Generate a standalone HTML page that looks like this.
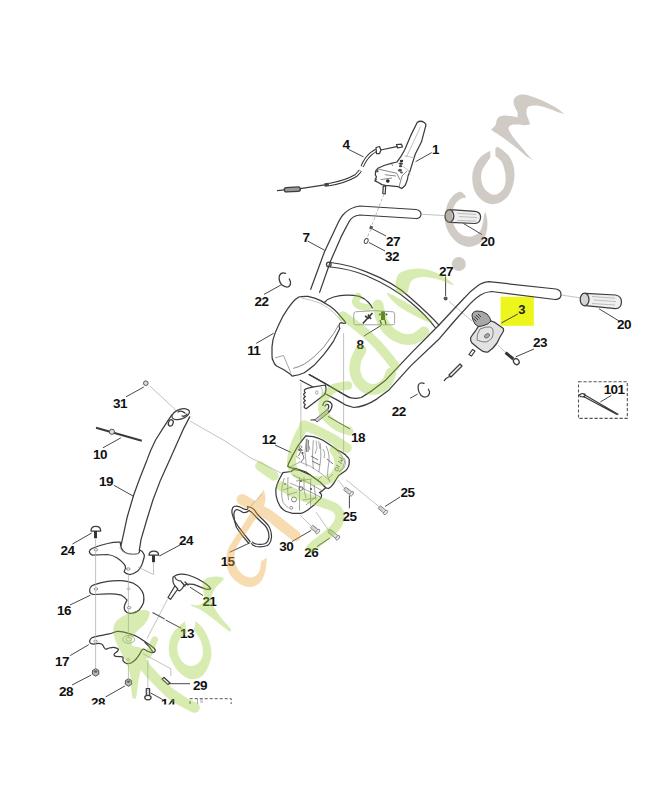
<!DOCTYPE html>
<html><head><meta charset="utf-8">
<style>
html,body{margin:0;padding:0;background:#fff;width:652px;height:800px;overflow:hidden}
svg{display:block}
.l{fill:none;stroke:#3c3c3c;stroke-width:1.25;stroke-linejoin:round;stroke-linecap:round}
.lf{fill:#fff;stroke:#3c3c3c;stroke-width:1.25;stroke-linejoin:round}
.t{fill:none;stroke:#333;stroke-width:0.9}
.g{fill:none;stroke:#a8a8a8;stroke-width:0.7}
.gd{fill:none;stroke:#9a9a9a;stroke-width:0.7;stroke-dasharray:3 2}
.n{font-family:"Liberation Sans",sans-serif;font-weight:bold;font-size:13.5px;fill:#111;text-anchor:middle;letter-spacing:-0.6px}
.wg{fill:none;stroke:#d3eab0;stroke-linecap:round;stroke-linejoin:round}
.wo{fill:none;stroke:#fbd9a6;stroke-linecap:round;stroke-linejoin:round}
.wb{fill:none;stroke:#d8d1c6;stroke-linecap:round;stroke-linejoin:round}
</style></head>
<body>
<svg width="652" height="800" viewBox="0 0 652 800">
<!-- WATERMARK -->
<!-- DIAGRAM -->
<g id="dg">
<!-- upper handlebar 7 -->
<path class="l" d="M310.7,289.3 L324.5,251.7 L336.7,225.7 Q341,216 344.4,213.4 Q350,207.5 359.8,206 L416,209.5 Q421,210.5 421,214 Q421,218.5 416,218.5 L359.8,215 Q352,216 349,221.8 L341.3,236.4 L330.6,261 L319.6,292.4"/>
<path class="l" d="M330.6,262.5 Q350,265 365.9,271.7 Q395,283 410.6,298 Q430,315 439,325.2"/>
<path class="l" d="M330.6,267 Q350,269 365.9,275.5 Q393,287 410.6,302.2 Q426,315 435.2,327.5"/>
<circle class="l" cx="328.8" cy="264.5" r="2.3"/>

<!-- part 11 cover -->
<path class="lf" d="M298.7,297 Q303,296 307.9,296.4 Q315,298 320.7,300.6 L330,306.2 Q334,309 337.3,312.6 L343.7,320 Q346,322.5 345.6,323.2 Q343,323.5 341,322.7 Q339.5,323 339.1,325 Q339,327.5 339.8,328.5 L333.7,340.8 Q329,348 323.9,354.3 Q319,360 314.1,365.3 Q309,369.5 304.3,372.7 Q299,375 293.2,375.9 Q292.5,376.2 292.2,376.1 L290.4,374.3 L283.9,369.7 L276.6,366 Q274.5,364.5 273.8,362.3 Q271.5,358 272,355 Q271.5,347 272.9,340.2 Q275,332 278.4,325.5 Q282.5,316 287.6,308.9 Q291.5,303 295,299.7 Z"/>
<path class="g" d="M301.4,297.9 Q312,300 320.7,303.4 Q328,307 333.6,312.6 Q338,317 341.9,321.8"/>
<path fill="none" stroke="#8a8a8a" stroke-width="1" d="M338.6,324.8 Q336,330 333.7,333.4 L323.9,346.9 Q319,352 314.1,356.7 Q309,361 304.3,364.1 Q299,367 293.2,368.4"/>
<path fill="none" stroke="#999" stroke-width="0.9" d="M274.8,358 L283.4,355.5 L290.8,372.7"/>
<!-- back housing arc -->
<path class="l" d="M324.4,302.5 Q328,298.5 333.6,297 Q340,295.2 346.5,295.1 Q354,295 359.4,296.4 Q365,298.5 368.6,302.5 Q371,305 372.3,308"/>
<!-- part 8 decal -->
<path fill="none" stroke="#9a9a9a" stroke-width="0.9" d="M355.5,311.8 Q374,309.5 393,311.8 Q394.6,312.3 394.6,314 L394.6,323.5 Q394.6,324.8 393,324.8 L355.5,324.8 Q353.8,324.8 353.8,323.5 L353.8,314 Q353.8,312.3 355.5,311.8 Z"/>
<path stroke="#3a3a3a" stroke-width="1.6" fill="none" d="M362.8,323.5 L372.5,313 M365,316 L369,318.5 M368,314.5 L371,319"/>
<g fill="#3d5a20"><circle cx="383" cy="313.5" r="2.2"/><rect x="381" y="315" width="4" height="5"/><path d="M380,320 L381.5,324.5 M385,320 L386,324.5" stroke="#3d5a20" stroke-width="1.3"/><circle cx="379.8" cy="314.5" r="1"/><circle cx="386.5" cy="314.5" r="1"/></g>

<!-- lever 1 -->
<path class="lf" d="M417.2,122.5 Q420.5,120 424.2,122.5 Q426.5,124 425.8,125.7 L421.5,141.8 L415.2,154.2 L409.5,172.6 Q407.8,175 407.4,179.6 L405.3,185.3 L401.8,188.5 L399.6,187.4 L398.2,186.7 L385.5,185.3 L382,184.6 L377,181.8 L374.9,181 L376.4,176.8 L375.3,174.7 L375.6,171.2 L377.8,168.3 L384.1,165.5 L391.2,163.4 L396.8,162 L401,156.4 L404.6,150 L410.8,135.4 Z"/>
<path class="g" d="M420.5,126.8 L406.5,156.9 M404.4,155.8 L415.1,158 M396.8,162.2 L408,170 L410.3,175.1"/>
<path fill="none" stroke="#555" stroke-width="0.7" d="M377.8,169 L396.8,173.3 L400,180 M384.8,174.7 L396,176 M380.6,179.6 L392,178 M399,187 L402,176 L407,171 M391.2,163.4 L393,166"/>
<ellipse cx="401.5" cy="161" rx="1.8" ry="1.2" fill="#333"/><ellipse cx="401" cy="163.6" rx="1.9" ry="1.2" fill="#333"/><ellipse cx="400.5" cy="166.2" rx="1.6" ry="1.1" fill="#444"/>
<ellipse cx="400" cy="170.3" rx="2" ry="1.5" fill="#555"/><ellipse cx="401.5" cy="172.5" rx="1.5" ry="1.1" fill="#666"/>
<circle cx="387.8" cy="181" r="1.8" fill="#222"/><circle cx="377.3" cy="171.3" r="1.2" fill="#555"/><circle cx="375.8" cy="179.7" r="1" fill="#444"/>
<path class="lf" d="M383.3,186 L382.8,193.5 L385.2,193.8 L385.7,186 Z"/>
<path class="gd" d="M384,194 L371.5,226"/>
<path class="gd" d="M371,229 L366.5,239"/>
<!-- cable 4 -->
<path class="l" d="M277.5,190.7 L284.3,189.8"/>
<rect x="284.3" y="187.3" width="16" height="4.4" rx="2" class="lf" style="fill:#9a9a9a" transform="rotate(-3 292 189.5)"/>
<path class="l" d="M300.3,188.7 L324.8,184.8" stroke-width="1.3"/>
<rect x="324.5" y="183" width="4.5" height="3.6" fill="#444" transform="rotate(-8 326.5 185)"/>
<path fill="none" stroke="#333" stroke-width="3.4" stroke-linecap="butt" d="M329,184.6 Q345,182 356,175.5 Q359,172.5 360.4,170.5 M362.2,166.5 Q365,159 371.2,153.6 Q374,151.5 376.2,150.3"/>
<path fill="none" stroke="#fff" stroke-width="1.4" d="M329,184.6 Q345,182 356,175.5 Q359,172.5 360.4,170.5 M362.2,166.5 Q365,159 371.2,153.6 Q374,151.5 376.2,150.3"/>
<path class="lf" d="M376,147.5 L379.5,146.5 L381,150 L379.5,153.5 L376.5,153.5 Z"/>
<path class="l" d="M380.5,150 L396.8,146.7" stroke-width="0.9"/>
<path class="l" d="M396.5,144.5 L401.5,144.2 L402.5,147 L397.5,147.8 Z" stroke-width="0.8"/>
<!-- grip 20 upper -->
<path class="lf" style="fill:#efefef" d="M450.1,209.7 L475,211.3 Q480.8,212 480.6,217.2 Q480.2,223.3 475,223.5 L450.1,222.3 Z"/>
<ellipse class="lf" style="fill:#d4d4d4" cx="449.4" cy="216" rx="4.4" ry="6.3"/>
<path class="g" d="M457,213.2 L476,214.5 M457,220.5 L476,221 M459,216.5 L477,217.6"/>
<path class="g" d="M421,214.2 L445,215.6"/>
<!-- grip 20 lower -->
<path class="lf" style="fill:#efefef" d="M585.3,293.3 L615.5,295 Q621.5,296 621.5,302 Q621.2,308.5 615.5,308.7 L585.3,305.7 Z"/>
<ellipse class="lf" style="fill:#d4d4d4" cx="584.6" cy="299.5" rx="4.4" ry="6.3"/>
<path class="g" d="M592,296.5 L615,298.2 M592,303.5 L615,305 M594,300 L616,301.6"/>
<path class="g" d="M561,295 L580,297.8"/>

<!-- yellow box 3 -->
<rect x="500.6" y="296.8" width="33.2" height="29" fill="#ecf61c"/>
<!-- part 3 -->
<path class="lf" style="fill:#e2e2e2" d="M478.4,326.4 L476,330 L473,334 L470.5,338 Q470.5,341 472,343 L478,348 L483,351.4 Q486,352.5 488,352 L493,348 L497,343 L500,337 L503,332 Q504,330 503.4,328.4 L499.9,326 L494.9,322.4 L491,321 Z"/>
<path fill="#e4e4e4" stroke="#555" stroke-width="0.7" d="M480,329 Q486,326.5 490,327 Q493,328 493,330 Q493.5,335 492,338 Q489,341 486,342 Q481,342 477,340 Q476.5,334 480,329 Z"/>
<ellipse cx="487" cy="335.8" rx="2.8" ry="1.9" fill="#aaa" stroke="#555" stroke-width="0.7" transform="rotate(-30 487 335.8)"/>
<path fill="#a8a8a8" stroke="#333" stroke-width="1" d="M472,316 Q472,311.5 477,311 Q482,310.5 487,314 Q490,317 491,321 Q488,324.5 485,325 Q481.5,326.5 478.4,326.4 Q476,325.5 475,324 Q472.5,320 472,316 Z"/>
<path d="M473.5,318.5 L476.5,321.5 M474.5,316.5 L478,320 M476,315 L479.5,318.5 M478,314 L481,317" stroke="#444" stroke-width="1"/>
<path class="lf" d="M469,354.5 L472.5,349.5 L475,351 L471.5,356 Z" stroke-width="0.8"/>
<path class="g" d="M449,301.5 L472,321 M497.9,344.9 L505.9,352.9"/>
<!-- screw 23 -->
<path d="M505.6,352.6 L513.3,359" stroke="#333" stroke-width="3"/>
<ellipse class="lf" cx="516.3" cy="361.6" rx="2.6" ry="3.2" transform="rotate(-40 516.3 361.6)"/>
<!-- part 27 right -->
<circle cx="445.6" cy="298.4" r="2" fill="#555"/>
<!-- 27 upper & 32 -->
<rect x="369.6" y="226" width="3.2" height="3" fill="#555" transform="rotate(20 371 227.5)"/>
<ellipse cx="366.2" cy="241" rx="1.8" ry="2.6" fill="none" stroke="#444" stroke-width="0.9" transform="rotate(25 366.2 241)"/>
<!-- pin near 22 right -->
<path class="lf" d="M449,375 L460,364 L462,366 L451,377 Z" stroke-width="0.8"/>
<path class="l" d="M449.5,376.5 L446,378.5 L444.3,380.6" stroke-width="1.2"/>
<!-- clip 22 right -->
<path class="l" d="M424,383.4 Q420,381.5 418.2,385.6 Q417.5,391 421.2,395.5 Q424.5,398.3 428,396 Q430,393.5 429.5,391.5 L428.3,389.2" stroke-width="1.7"/>
<!-- clip 22 left -->
<path class="l" d="M285.6,273.4 Q281,271.8 279.3,276 Q278.5,281 281.6,284.8 Q285,287.6 288.2,287 Q291,285.5 290.4,281.5 L289.3,278.9" stroke-width="1.7"/>
<!-- box 101 -->
<rect x="578.5" y="381.8" width="48.8" height="36.6" fill="none" stroke="#555" stroke-width="1.1" stroke-dasharray="3.2 1.8"/>
<path class="l" d="M584,394.5 L618,414.2 M583.5,396.5 L617,414.5" stroke-width="0.9"/>
<path class="l" d="M579,395 L582,393.5 L585,394 L584.5,397 L581,396.7 Z" stroke-width="0.9"/>

<!-- part 19 tube -->
<path class="l" d="M171.8,414.9 Q163,428 155.6,440 Q150.5,450 147,459.9 L139.8,478.3 L133.6,495.2 L127.3,516.7 L122,541.2 L120.9,545.8"/>
<path class="l" d="M189.7,416.9 Q183,429 178.5,440 L169.6,459.9 L160.6,479.9 L153,499.8 L146.8,519.8 L141,539.7 L139.3,550.4"/>
<ellipse class="lf" cx="180.7" cy="414.2" rx="9.2" ry="4.8" transform="rotate(-20 180.7 414.2)"/>
<path class="l" d="M178,412 Q181,410 185,413 M182,416 Q186,417 187,414" stroke-width="0.7"/>
<ellipse class="l" cx="170.8" cy="422.9" rx="2.3" ry="3.3" transform="rotate(20 170.8 422.9)" stroke-width="0.9"/>
<!-- flange of 19 -->
<path class="lf" d="M92.4,548.3 Q100,545 107.6,543.5 Q114,542 120.2,542.2 L120.7,545.8 Q122,552 127.6,553.5 Q134,555 138.3,553.5 Q140,552 139.8,550 Q142.5,551 142.8,552.4 Q145,555 144.2,557.3 L142.1,564.2 Q139.5,570 136.6,571.8 Q133,574.5 129.7,574.5 Q126,574 124.2,571.8 Q124.5,569.5 125.6,568.3 Q125.5,565.5 124.2,564.2 Q121,560.5 117.3,558 Q112.5,555 107.6,554.5 L92.4,555.2 Q89.5,554 89.3,551.5 Q89.8,549.2 92.4,548.3 Z"/>
<path class="g" d="M119.2,547.4 Q122,552.5 127.6,554 Q134,555.5 139,553"/>
<ellipse cx="95.9" cy="549.8" rx="1.8" ry="1.2" fill="none" stroke="#666" stroke-width="0.7"/>
<ellipse cx="128.3" cy="569" rx="1.8" ry="1.2" fill="none" stroke="#666" stroke-width="0.7"/>
<!-- screws 24 -->
<path class="lf" d="M91,531 Q91,526.3 95.8,526.3 Q100.7,526.3 100.7,531 Z" stroke-width="0.9"/>
<path d="M95.5,531 L95.5,538.2" stroke="#333" stroke-width="3"/>
<path class="lf" d="M149,555.2 Q149,551 153.8,551 Q158.7,551 158.7,555.2 Z" stroke-width="0.9"/>
<path d="M153.5,555.2 L153.5,562.2" stroke="#333" stroke-width="3"/>
<!-- part 16 -->
<path class="lf" d="M93.8,584.9 Q100,582.5 107.6,581.4 Q114,580.5 121.4,580.7 Q127,581.3 132.5,582.8 Q136.5,585 139.4,587.6 Q142.2,590.5 143.5,594.5 Q144.3,598.5 143.5,602.8 Q142,606.5 139.4,609.7 Q136.5,612.5 132.5,613.2 Q129,613.7 127,612.5 Q124.2,610.5 124.2,608.3 Q124.2,606 124.9,604.2 L127,600.1 Q124.5,597 121.4,595.2 Q114.5,593.5 107.6,593.9 L93.8,594.5 Q90.3,594 89.8,591.8 Q89.3,589 90.4,587.5 Q91.8,585.4 93.8,584.9 Z"/>
<ellipse cx="95.9" cy="589" rx="1.8" ry="1.2" fill="none" stroke="#666" stroke-width="0.7"/>
<ellipse cx="128.6" cy="588.8" rx="1.6" ry="1" fill="none" stroke="#999" stroke-width="0.6"/>
<ellipse cx="129" cy="607.7" rx="1.8" ry="1.2" fill="none" stroke="#666" stroke-width="0.7"/>
<!-- part 17 -->
<path class="lf" d="M89.6,641.1 C89.7,640.3 90.7,638.4 91.9,637.7 C93.1,637.0 96.7,636.4 98.8,635.9 C100.9,635.4 106.0,634.7 108.0,634.2 C110.0,633.7 112.6,632.9 113.8,632.5 C115.0,632.1 116.0,631.4 117.2,631.3 C118.4,631.2 121.2,631.5 123.0,631.9 C124.8,632.3 129.2,633.6 131.0,634.2 C132.8,634.8 135.3,635.7 136.8,636.5 C138.3,637.3 140.8,638.9 142.5,640.0 C144.2,641.1 147.9,643.5 149.4,644.6 C150.9,645.7 153.2,647.2 154.0,648.0 C154.8,648.8 155.3,650.3 155.2,650.9 C155.1,651.5 153.8,652.5 152.9,652.6 C152.0,652.7 149.5,652.0 148.3,651.5 C147.1,651.0 144.6,649.3 143.7,649.2 C142.8,649.1 142.0,650.1 141.4,650.9 C140.8,651.7 139.9,653.8 139.1,654.9 C138.3,656.0 136.7,658.4 135.6,659.5 C134.5,660.6 132.2,662.5 131.0,663.0 C129.8,663.5 127.5,663.8 126.4,663.5 C125.3,663.2 123.5,661.5 123.0,660.7 C122.5,659.9 123.5,657.7 123.0,657.2 C122.5,656.7 120.6,656.7 119.5,656.6 C118.4,656.5 115.6,656.5 114.9,656.1 C114.2,655.7 114.0,654.4 114.3,653.8 C114.6,653.2 116.7,652.1 117.2,651.5 C117.7,650.9 118.9,649.7 118.4,649.2 C117.9,648.7 115.0,647.6 113.8,647.4 C112.6,647.2 110.3,647.8 109.2,648.0 C108.1,648.2 106.4,649.3 105.7,649.2 C105.0,649.1 104.5,648.0 104.0,647.4 C103.5,646.8 103.0,645.1 102.3,644.6 C101.6,644.1 99.9,643.5 98.8,643.4 C97.7,643.3 95.3,644.0 94.2,644.0 C93.1,644.0 91.4,643.8 90.8,643.4 C90.2,643.0 89.5,641.9 89.6,641.1 Z"/>
<path class="l" d="M145,642.5 Q150,646.5 152.5,651.5" stroke-width="0.7"/>
<ellipse cx="95.6" cy="641.2" rx="1.8" ry="1.1" fill="none" stroke="#777" stroke-width="0.7"/>
<ellipse cx="128.7" cy="639.4" rx="6" ry="3.9" fill="none" stroke="#888" stroke-width="0.7"/>
<ellipse cx="128.7" cy="639.4" rx="2.8" ry="1.8" fill="none" stroke="#888" stroke-width="0.6"/>
<ellipse cx="128.1" cy="659.5" rx="1.6" ry="1" fill="none" stroke="#888" stroke-width="0.6"/>
<!-- nuts 28 -->
<path d="M92.5,670.5 L95.6,668.6 L98.8,670.5 L98.8,674.2 L95.6,676.2 L92.5,674.2 Z" fill="#b8b8b8" stroke="#444" stroke-width="0.9"/>
<ellipse cx="95.6" cy="671.5" rx="1.8" ry="1.2" fill="#666"/>
<path d="M125.4,680.6 L128.5,678.7 L131.6,680.6 L131.6,684.3 L128.5,686.3 L125.4,684.3 Z" fill="#b8b8b8" stroke="#444" stroke-width="0.9"/>
<ellipse cx="128.5" cy="681.6" rx="1.8" ry="1.2" fill="#666"/>
<!-- bolt 14 -->
<path class="lf" d="M146.3,688.5 L149.6,688.5 L149.6,696 L146.3,696 Z" stroke-width="0.8"/>
<path d="M146.3,690.5 L149.6,690 M146.3,692.5 L149.6,692 M146.3,694.5 L149.6,694" stroke="#777" stroke-width="0.5"/>
<ellipse class="lf" cx="147.9" cy="697.6" rx="3.2" ry="2.2" stroke-width="0.8"/>
<!-- vertical dotted lines left -->
<path class="g" d="M95.6,538.5 L95.6,547.5 M95.6,551.5 L95.6,586.8 M95.6,591 L95.6,638.8 M95.6,643 L95.6,668.5 M128.4,574.8 L128.4,606 M128.4,609.5 L128.4,637.8 M128.4,661.5 L128.4,678.8"/>
<path class="g" d="M153.5,562.5 L153.5,574.5 L138,567"/>
<!-- part 31 -->
<circle cx="145.8" cy="383.2" r="2.3" fill="#ddd" stroke="#444" stroke-width="0.9"/>
<path class="g" d="M149.8,386 L175.7,409.9 M189.7,420.9 L225,441 L250,457.5 L283,474"/>
<!-- part 10 -->
<path d="M96,427.8 L141.8,440.8" stroke="#3a3a3a" stroke-width="2"/>
<circle cx="111.9" cy="431.8" r="2.6" fill="#ddd" stroke="#444" stroke-width="0.9"/>

<!-- bracket plate -->
<path class="l" d="M300.2,380.2 L313.5,387.2"/>
<path class="lf" d="M312.5,387.2 L325.4,385 Q327,390 324.4,394.7 L306.1,408.7 Q302.6,407 305.3,404.6 Q302,402.6 305.3,400.6 Q302,398.6 305.3,396.6 Q302,394.6 305.3,392.6 Q302.5,389.8 307.2,388.3 Z"/>
<ellipse cx="316.8" cy="392.5" rx="1.3" ry="1.8" fill="none" stroke="#777" stroke-width="0.6"/>
<path class="g" d="M320.5,386 Q323.5,390 322,395"/>
<!-- lower handlebar extra (front segment) -->
<path class="l" d="M309.3,374.6 L350,397.8"/>
<!-- part 18 -->
<path fill="#ccc" stroke="#444" stroke-width="0.8" d="M327.2,409.5 L329.5,412 L317,422 L314.8,419.8 Z"/>
<path class="l" d="M311,420 L314.8,419.8" stroke-width="1"/>
<path class="l" d="M322.8,405.4 Q323.5,401.5 326.5,401 Q331,401 332.1,405 Q332,409 328.7,412.2 M325,406 Q326,404 328,404.5 Q329.6,406 328,409" stroke-width="1"/>
<!-- dashed verticals -->
<path class="g" d="M300.9,382.6 L300.9,465 M343.6,333 L343.6,452"/>
<!-- part 12 upper housing -->
<path class="lf" d="M305.7,435.8 L313.3,436.7 Q318,438 323,440.2 L331.3,445.7 L336.8,449.8 Q340,451 342.3,452.6 Q346,454.5 346.4,456.1 Q349.5,458.5 349.2,460.9 Q349.5,464 348.5,466.4 Q347.5,469 345.8,470.6 L340.9,474 L338.2,476.1 L336.1,479.5 L334,483 L331.3,486.4 L328.5,488.5 L325.7,487.8 L320,483 L313,477 L306,472 L296,468.5 L291.2,467.8 L287.8,466.4 L288.5,463.7 L292.6,455.4 L298.1,445.7 Z"/>
<path fill="none" stroke="#666" stroke-width="0.6" d="M306.4,438.8 L305,452 L306.4,466.4 M313.3,440.2 L312.5,455 L313.3,469 M320.2,443 Q322,456 318.8,472 M326,446 Q331,455 328,468 Q326,476 330,482 M337,451 Q343,455 344.5,462 Q344,468 339,472 M300,448 L303,451 M296,456 L300,459 M309,446 L310,450 M333,474 L329,478 M322,476 L318,480"/>
<circle cx="336.8" cy="469.2" r="1.7" fill="none" stroke="#555" stroke-width="0.7"/>
<path fill="none" stroke="#555" stroke-width="0.8" d="M307,439 L306.5,452 M308.5,440 L308,452 M302,452 L304,458 L301,462 M311,456 L318,460 M312,461 L320,465 M327,459 L333,464 M339,457 L343,459 M338,461 L342,464 M336,465 L340,467 M298.5,456 L302,449"/>
<path fill="none" stroke="#777" stroke-width="0.6" d="M316,440.5 L317,448 L315,454 M318.5,441 L320,449 M323,449 Q326,453 324,458 M344.5,458 Q347,463 344,468 L339,472 M291,466.5 L300,462 L310,466 L322,474 L330,481"/>
<circle cx="299.5" cy="449.8" r="1.4" fill="#666"/><circle cx="302.5" cy="453" r="1" fill="#555"/><circle cx="341.5" cy="460.5" r="1" fill="#555"/>

<circle cx="300.5" cy="447" r="1.3" fill="none" stroke="#555" stroke-width="0.6"/>
<!-- part 12 lower housing -->
<path class="lf" d="M282.9,472.6 L291.2,471.5 L293.5,469.5 L300,470.5 L310,475 L320,482 L325.7,487.8 L322,491 L319.5,492.6 Q321.5,494 321.6,495.4 Q321.5,497.5 320.2,498.9 L314.7,504.4 L307.8,509.9 Q304,512.5 300.9,513.3 L292.6,513.3 Q288.5,512.5 285.7,511.3 Q282,509 280.2,506.4 Q277.5,502 276.7,498.2 Q275.5,493 276,488.5 Q277,484 278.8,480.2 Z"/>
<path fill="none" stroke="#666" stroke-width="0.6" d="M284.3,478 Q281.6,486 281.6,491.3 Q281.5,498 283,502.3 Q285.5,506 288.5,507.8 M292.6,474.7 Q308,482 323,491.3 M289.8,483 Q305,489 320.2,496.8 M299.5,477.5 L299.5,510.6 M310.6,480.2 L310.6,507.8 M287,495 L297,492 M303,500 L315,498"/>
<circle cx="300.9" cy="488.5" r="2" fill="none" stroke="#555" stroke-width="0.7"/>
<circle cx="294" cy="499.5" r="2.5" fill="none" stroke="#555" stroke-width="0.7"/>
<circle cx="291.2" cy="507.8" r="1.5" fill="none" stroke="#555" stroke-width="0.6"/>
<path fill="none" stroke="#666" stroke-width="0.6" d="M288,477 Q287,490 288.5,500 M304,477 L304,490 L306,498 M314,485 L316,500 M283,490 L292,487 M296,481 L312,479 M306,505 L316,497"/>
<circle cx="301" cy="481" r="1" fill="#555"/><circle cx="311" cy="489" r="1.1" fill="#555"/><circle cx="285" cy="484" r="0.9" fill="#555"/>

<!-- screws 25, 30, 26 -->
<g transform="translate(344.5,488.5) rotate(36.9)"><rect x="0" y="-1.8" width="8.1" height="3.6" rx="0.8" fill="#e2e2e2" stroke="#666" stroke-width="0.7"/><path d="M1.5,-1.8 L1.5,1.8 M3,-1.8 L3,1.8 M4.5,-1.8 L4.5,1.8" stroke="#999" stroke-width="0.4"/><ellipse cx="8.8" cy="0" rx="1.5" ry="2.6" fill="#ececec" stroke="#666" stroke-width="0.7"/></g>
<g transform="translate(379.2,507) rotate(40.3)"><rect x="0" y="-1.8" width="7.7" height="3.6" rx="0.8" fill="#e2e2e2" stroke="#666" stroke-width="0.7"/><path d="M1.5,-1.8 L1.5,1.8 M3,-1.8 L3,1.8 M4.5,-1.8 L4.5,1.8" stroke="#999" stroke-width="0.4"/><ellipse cx="8.4" cy="0" rx="1.5" ry="2.6" fill="#ececec" stroke="#666" stroke-width="0.7"/></g>
<g transform="translate(311.5,526.5) rotate(39.2)"><rect x="0" y="-1.8" width="7.3" height="3.6" rx="0.8" fill="#e2e2e2" stroke="#666" stroke-width="0.7"/><path d="M1.5,-1.8 L1.5,1.8 M3,-1.8 L3,1.8 M4.5,-1.8 L4.5,1.8" stroke="#999" stroke-width="0.4"/><ellipse cx="8.0" cy="0" rx="1.5" ry="2.6" fill="#ececec" stroke="#666" stroke-width="0.7"/></g>
<g transform="translate(328.8,530.5) rotate(39.2)"><rect x="0" y="-1.8" width="10.8" height="3.6" rx="0.8" fill="#e2e2e2" stroke="#666" stroke-width="0.7"/><path d="M1.5,-1.8 L1.5,1.8 M3,-1.8 L3,1.8 M4.5,-1.8 L4.5,1.8" stroke="#999" stroke-width="0.4"/><ellipse cx="11.5" cy="0" rx="1.5" ry="2.6" fill="#ececec" stroke="#666" stroke-width="0.7"/></g>
<path class="g" d="M346.4,480 L380.2,507.6 M338,480 L345,488.5 M300,515 L311.5,526.5 M316,512 L328.8,530.5"/>

<!-- part 15 loop -->
<path class="l" d="M250,541.5 Q244,534 238,526 Q233,519 232,513 Q231.5,508 234,506.5 Q238,505.5 242,508 Q245,510 247,509.5 Q248.5,508 247.5,506.5 Q252,507 254.5,510 Q257,514 259.5,516.5 Q264,520.5 268,525 Q271.5,530 271.5,537 Q271,543 267.5,545.5 Q262,547.5 256,546.5 Q252.5,545.5 251.5,543.5"/>
<path class="l" d="M248.5,543 Q242,536 236.5,527.5 Q233.5,520 234,513.5 Q234.5,509.5 237,509.5 Q240.5,510.5 243,512.5 Q246.5,513 249,510.5 Q252.5,512 256,517 Q260,521 265,525.5 Q269,530 269,537 Q268.5,541.5 265.5,543.5 Q261,545 256,544 Q253.5,543.5 252.5,542"/>
<path class="g" d="M262,494 L250,507"/>
<!-- part 21 -->
<path class="lf" d="M173.1,576.9 Q177,574 180.6,574.1 Q184.5,574 188.1,575 Q193,576.5 197.5,578.7 Q202.5,581.5 206.8,584.4 Q210,587 210.6,589 Q208,590 203.1,588.1 Q198,586 193.7,584.4 Q189.5,583.8 186.2,584.4 Q183.5,585.5 182.5,588.1 L179.7,590.9 Q177,590.5 175,586.2 Q172,582 173.1,576.9 Z"/>
<path class="l" d="M175,577.5 Q177,581 181,581 M181.5,582 L185,586 M185,582 L188,585" stroke-width="0.7"/>
<path class="lf" d="M175,585.8 L168,597.5 L170.5,599.3 L177.8,589 Z" stroke-width="0.9"/>
<path class="g" d="M167.5,599.4 L146.9,638.7"/>
<!-- part 13 -->
<path d="M152.5,612.5 L164.7,619" stroke="#555" stroke-width="1.1"/>
<!-- part 29 -->
<path class="lf" d="M162,679 L164,677.5 L170,683 L168,684.6 Z" stroke-width="0.8"/>
<path class="g" d="M142.9,653.7 L170.8,668.7 L170.8,676 M147.8,660 L147.8,688"/>
<!-- dashed box bottom -->
<path d="M190,704 L190,698.7 L231.2,698.7 L231.2,704" fill="none" stroke="#555" stroke-width="1" stroke-dasharray="3 2"/>
<path d="M197.5,699 L197.5,704 M200,700 L203,700 M200,702 L203,702" stroke="#888" stroke-width="0.7"/>
<!-- lower handlebar -->
<path class="l" d="M309.2,374.5 L324.5,383 L339.9,392.2 L347.5,396.8 Q353.7,399.5 361.3,397.5 L372.1,390.6 L385.9,379.9 L410.7,353.6 L439.5,324.5 L452.3,310.7 L464.5,297.8 Q471,290.5 476.8,286.5 Q482,282.2 489,281.7 L556,289 Q561,290 561,294.5 Q561,299.5 555,299.5 L491.5,291.5 Q485,292 480.5,295 Q475,298.5 470.7,303.2 L458,317 L451,325 L438.3,339.8 L410.7,365.9 L389,389.9 L376.7,399.1 Q364.4,407 353.7,407.5 L346,405.2 L338.3,400.6 L325.3,393.7"/>
</g>
<g id="leaders" stroke="#333" stroke-width="0.9" fill="none">
<path d="M348.4,149.3 L363.6,156.9"/>
<path d="M415.6,161.7 L431.7,152.6"/>
<path d="M307.6,241 L324.5,250.2"/>
<path d="M372.5,229 L386,236"/>
<path d="M369,242.5 L385,251"/>
<path d="M463.5,223.5 L481.9,234.5"/>
<path d="M445.6,276.5 L445.6,296"/>
<path d="M264,294.4 L280.8,285.1"/>
<path d="M501.4,323 L517.8,314"/>
<path d="M599,308.75 L619,321"/>
<path d="M256.2,343.4 L273.7,333.3"/>
<path d="M364,336 L381,325.5"/>
<path d="M515.8,356.8 L534,349"/>
<path d="M125.9,396.9 L143.8,387"/>
<path d="M600.4,401.9 L611.4,395.4"/>
<path d="M410,398.3 L417.6,394.1"/>
<path d="M327.9,416.4 L350,429"/>
<path d="M275,445 L291.25,452.5"/>
<path d="M103,447.8 L120.9,437.8"/>
<path d="M113.8,485.2 L133,496"/>
<path d="M385,506.5 L400,497"/>
<path d="M349.4,495.9 L349.4,508.3"/>
<path d="M72.5,544 L91.7,533"/>
<path d="M159.4,556 L180,545"/>
<path d="M292,541.5 L311.2,530.4"/>
<path d="M317,546.5 L329.8,538"/>
<path d="M229.7,552.3 L250.1,542.7"/>
<path d="M190,587.2 L203.1,595.6"/>
<path d="M70,605 L90.4,595.2"/>
<path d="M165.6,620 L181.5,628.4"/>
<path d="M70.2,655.6 L88.8,644.6"/>
<path d="M169.4,683.7 L190,683.7"/>
<path d="M72,685 L91.3,675"/>
<path d="M105.7,696.9 L125,685.9"/>
<path d="M150.6,693 L162.8,699.6"/>
</g>
<!-- LABELS -->
<g id="lb">
<text class="n" x="346" y="149">4</text>
<text class="n" x="435.5" y="153.5">1</text>
<text class="n" x="306" y="241.5">7</text>
<text class="n" x="393" y="245.6">27</text>
<text class="n" x="392" y="260.7">32</text>
<text class="n" x="487.5" y="245.7">20</text>
<text class="n" x="446" y="275.7">27</text>
<text class="n" x="261.5" y="305.7">22</text>
<text class="n" x="521.6" y="313.8" style="font-size:13px;fill:#222">3</text>
<text class="n" x="624" y="329.2">20</text>
<text class="n" x="253.75" y="354.7">11</text>
<text class="n" x="360" y="348.5">8</text>
<text class="n" x="540" y="347.2">23</text>
<text class="n" x="120" y="407.7">31</text>
<text class="n" x="614" y="394.2">101</text>
<text class="n" x="398.7" y="415.5">22</text>
<text class="n" x="358" y="441.7">18</text>
<text class="n" x="268.75" y="444.2">12</text>
<text class="n" x="100" y="458.7">10</text>
<text class="n" x="106" y="485.7">19</text>
<text class="n" x="407.5" y="497.2">25</text>
<text class="n" x="349.5" y="520.5">25</text>
<text class="n" x="67.5" y="554.7">24</text>
<text class="n" x="186" y="544.7">24</text>
<text class="n" x="286.25" y="551">30</text>
<text class="n" x="311.25" y="557.2">26</text>
<text class="n" x="227.6" y="565.6">15</text>
<text class="n" x="209.3" y="606.4">21</text>
<text class="n" x="64" y="614.7">16</text>
<text class="n" x="187" y="637.7">13</text>
<text class="n" x="62" y="665.7">17</text>
<text class="n" x="200" y="689.7">29</text>
<text class="n" x="66" y="695.7">28</text>
<text class="n" x="98" y="706.7">28</text>
<text class="n" x="168" y="707.7">14</text>
</g>
<rect x="0" y="704.5" width="652" height="96" fill="#fff"/>
<g id="wm" opacity="0.38">
<path fill="#9acd32" d="M150.1,612.0 C149.2,611.7 146.8,610.3 144.6,610.1 C142.4,609.9 140.0,610.4 137.2,611.0 C134.4,611.6 130.8,612.7 128.0,613.8 C125.2,614.9 122.8,616.0 120.6,617.5 C118.4,619.0 116.3,621.0 115.1,623.0 C113.9,625.0 113.4,627.1 113.3,629.4 C113.2,631.7 113.6,634.3 114.2,636.8 C114.8,639.3 115.9,641.8 117.0,644.2 C118.1,646.7 119.4,649.0 120.6,651.5 C121.8,654.0 123.0,656.2 124.3,659.0 C125.6,661.8 127.4,664.4 128.5,668.0 C129.6,671.6 130.5,677.0 131.0,680.7 C131.5,684.4 131.1,687.0 131.3,690.0 C131.6,693.0 132.3,697.1 132.5,698.5 L136.0,698.5 C136.2,697.1 136.9,693.1 137.3,690.0 C137.7,686.9 137.9,683.3 138.5,680.0 C139.1,676.7 139.8,673.3 141.0,670.0 C142.2,666.7 144.8,663.0 146.0,660.0 C147.2,657.0 148.8,654.0 148.0,652.0 C147.2,650.0 143.5,649.0 141.0,648.0 C138.5,647.0 134.6,646.6 133.0,646.0 C131.4,645.4 131.8,645.4 131.7,644.2 C131.6,643.0 132.0,640.5 132.6,638.6 C133.2,636.8 134.2,634.8 135.4,633.1 C136.6,631.4 138.5,630.0 140.0,628.5 C141.5,627.0 143.2,625.6 144.6,623.9 C146.0,622.2 147.3,620.4 148.2,618.4 C149.1,616.4 149.8,613.1 150.1,612.0 Z"/>
<path fill="none" stroke="#9acd32" stroke-width="10.6" stroke-linecap="round" stroke-linejoin="round" d="M137.0,654.0 C137.7,655.2 139.2,658.2 141.0,661.0 C142.8,663.8 145.1,667.1 148.0,670.5 C150.9,673.9 154.5,677.7 158.3,681.5 C162.1,685.3 166.2,690.0 170.6,693.5 C174.9,697.0 180.4,700.2 184.4,702.5 C188.4,704.8 192.8,706.7 194.5,707.5"/>
<path fill="none" stroke="#9acd32" stroke-width="6.6" stroke-linecap="round" stroke-linejoin="round" d="M148.2,655.2 C148.7,654.0 149.9,650.6 151.0,648.0 C152.1,645.4 154.1,641.0 154.7,639.6"/>
<path fill="#9acd32" d="M185.0,621.0 C183.0,623.0 175.7,628.8 173.0,633.0 C170.3,637.2 169.4,641.8 169.0,646.0 C168.6,650.2 168.9,653.8 170.5,658.0 C172.1,662.2 175.2,668.0 178.5,671.5 C181.8,675.0 186.2,678.2 190.0,679.0 C193.8,679.8 198.4,678.7 201.5,676.5 C204.6,674.3 206.8,669.8 208.5,666.0 C210.2,662.2 211.4,658.2 211.5,654.0 C211.6,649.8 210.4,644.8 209.0,640.5 C207.6,636.2 205.2,631.8 203.0,628.5 C200.8,625.2 196.8,622.2 195.5,621.0 L194.0,630.0 C195.0,631.5 198.5,635.5 200.0,639.0 C201.5,642.5 203.0,647.2 203.0,651.0 C203.0,654.8 202.0,659.0 200.0,661.5 C198.0,664.0 194.0,666.0 191.0,666.0 C188.0,666.0 184.2,664.0 182.0,661.5 C179.8,659.0 178.0,654.5 177.5,651.0 C177.0,647.5 177.5,643.5 179.0,640.5 C180.5,637.5 185.2,634.2 186.5,633.0 Z"/>
<path fill="#9acd32" d="M205.8,578.8 C208.0,577.4 212.5,576.7 215.4,576.6 C218.3,576.5 222.6,577.3 223.5,578.3 C224.4,579.3 222.2,580.9 220.8,582.5 C219.5,584.1 216.8,585.9 215.4,587.9 C214.0,589.9 212.9,592.2 212.2,594.4 C211.5,596.5 210.6,598.3 211.1,600.8 C211.6,603.3 213.4,606.2 215.4,609.4 C217.4,612.6 220.4,616.9 222.9,620.1 C225.4,623.3 229.4,626.8 230.5,628.7 C231.6,630.6 230.7,631.8 229.4,631.4 C228.1,631.0 225.8,628.8 222.9,626.6 C220.0,624.4 215.8,620.7 212.2,618.0 C208.6,615.3 205.1,612.6 201.5,610.5 C197.9,608.4 191.2,606.0 190.7,605.1 C190.2,604.2 196.0,605.8 198.3,605.1 C200.6,604.4 203.8,602.9 204.7,600.8 C205.6,598.6 204.0,594.9 203.6,592.2 C203.2,589.5 202.1,586.9 202.5,584.7 C202.9,582.5 203.7,580.1 205.8,578.8 Z"/>
<path fill="#efa634" d="M263.7,489.5 C262.6,491.2 259.0,496.5 257.0,500.0 C255.0,503.5 253.6,506.9 251.6,510.6 C249.6,514.3 247.3,518.3 245.0,522.0 C242.7,525.7 240.2,529.5 238.0,533.0 C235.8,536.5 233.2,540.0 231.5,543.0 C229.8,546.0 228.3,548.0 227.5,551.0 C226.7,554.0 226.1,557.2 226.4,561.0 C226.8,564.8 227.4,570.2 229.6,574.0 C231.8,577.8 235.9,581.5 239.4,583.7 C242.9,585.9 247.2,587.3 250.7,587.0 C254.2,586.7 258.1,584.7 260.5,582.0 C262.9,579.3 264.3,574.8 265.4,570.7 C266.5,566.7 266.7,559.9 267.0,557.7 L261.3,561.0 C261.1,562.3 260.7,566.8 260.0,569.0 C259.3,571.2 258.8,573.1 257.2,574.5 C255.6,575.9 253.2,577.6 250.7,577.5 C248.2,577.4 244.5,576.2 242.0,574.0 C239.5,571.8 236.7,567.9 235.5,564.2 C234.3,560.5 234.4,555.5 235.0,552.0 C235.6,548.5 237.2,546.2 239.0,543.0 C240.8,539.8 243.3,536.8 246.0,533.0 C248.7,529.2 252.3,523.7 255.0,520.0 C257.7,516.3 260.2,514.1 262.0,510.6 C263.8,507.1 265.2,502.5 265.5,499.0 C265.8,495.5 264.0,491.1 263.7,489.5 Z"/>
<path fill="none" stroke="#efa634" stroke-width="10.8" stroke-linecap="round" stroke-linejoin="round" d="M242.0,499.5 C244.2,500.8 250.3,504.2 255.0,507.0 C259.7,509.8 265.2,512.7 270.0,516.0 C274.8,519.3 279.8,523.7 284.0,527.0 C288.2,530.3 293.6,534.5 295.5,536.0"/>
<path fill="none" stroke="#9acd32" stroke-width="9.6" stroke-linecap="round" stroke-linejoin="round" d="M260.0,466.0 C262.3,467.7 271.7,474.3 274.0,476.0"/>
<path fill="none" stroke="#9acd32" stroke-width="8.6" stroke-linecap="round" stroke-linejoin="round" d="M348.0,385.5 C346.0,385.8 339.5,386.0 336.0,387.5 C332.5,389.0 329.2,391.6 327.0,394.4 C324.8,397.1 323.1,400.9 322.5,404.0 C321.9,407.1 322.3,410.2 323.5,413.0 C324.7,415.8 327.2,418.2 329.7,420.5 C332.2,422.8 335.1,425.2 338.3,427.0 C341.5,428.8 347.2,430.3 349.0,431.0"/>
<path fill="none" stroke="#9acd32" stroke-width="9.6" stroke-linecap="round" stroke-linejoin="round" d="M304.0,425.0 C306.3,426.0 313.2,428.7 318.0,431.0 C322.8,433.3 328.2,436.2 333.0,439.0 C337.8,441.8 344.7,446.5 347.0,448.0"/>
<path fill="none" stroke="#9acd32" stroke-width="9.0" stroke-linecap="round" stroke-linejoin="round" d="M303.0,428.0 C302.0,430.0 298.7,436.0 297.0,440.0 C295.3,444.0 293.9,448.2 293.0,452.0 C292.1,455.8 291.2,459.7 291.5,463.0 C291.8,466.3 292.6,469.4 295.0,472.0 C297.4,474.6 301.8,477.0 306.0,478.5 C310.2,480.0 315.7,481.2 320.0,481.0 C324.3,480.8 328.9,479.7 332.0,477.5 C335.1,475.3 337.5,471.4 338.5,468.0 C339.5,464.6 338.8,460.0 338.0,457.0 C337.2,454.0 334.7,451.2 334.0,450.0"/>
<path fill="none" stroke="#9acd32" stroke-width="9.4" stroke-linecap="round" stroke-linejoin="round" d="M281.0,486.0 C283.3,487.2 289.8,491.2 295.0,493.5 C300.2,495.8 306.8,497.8 312.0,499.5 C317.2,501.2 322.0,502.5 326.0,504.0 C330.0,505.5 333.7,506.5 336.0,508.5 C338.3,510.5 340.0,513.0 340.0,516.0 C340.0,519.0 338.3,523.2 336.0,526.5 C333.7,529.8 329.2,533.2 326.0,536.0 C322.8,538.8 319.5,541.0 317.0,543.0 C314.5,545.0 312.0,547.2 311.0,548.0"/>
<path fill="none" stroke="#9acd32" stroke-width="9.4" stroke-linecap="round" stroke-linejoin="round" d="M343.0,316.0 C345.5,317.8 353.3,323.2 358.0,327.0 C362.7,330.8 367.1,334.3 371.4,338.5 C375.7,342.7 380.1,347.4 384.0,352.0 C387.9,356.6 393.2,363.7 395.0,366.0"/>
<path fill="none" stroke="#9acd32" stroke-width="10.8" stroke-linecap="round" stroke-linejoin="round" d="M361.0,350.0 C360.2,351.7 357.0,356.3 356.0,360.0 C355.0,363.7 354.3,368.2 355.0,372.0 C355.7,375.8 357.7,380.2 360.0,383.0 C362.3,385.8 365.7,388.2 369.0,389.0 C372.3,389.8 377.0,389.2 380.0,388.0 C383.0,386.8 385.2,384.5 387.0,382.0 C388.8,379.5 390.3,374.5 391.0,373.0"/>
<path fill="none" stroke="#9acd32" stroke-width="7.2" stroke-linecap="round" stroke-linejoin="round" d="M358.0,296.5 C357.6,297.4 355.2,300.4 355.5,302.0 C355.8,303.6 357.9,305.0 360.0,306.0 C362.1,307.0 366.7,307.7 368.0,308.0"/>
<path fill="#9acd32" d="M396.5,292.5 C396.3,291.1 395.2,287.0 395.5,284.0 C395.8,281.0 396.6,276.6 398.5,274.3 C400.4,272.0 403.4,271.1 406.8,270.2 C410.2,269.2 414.8,268.4 419.2,268.6 C423.6,268.8 428.9,270.0 433.0,271.4 C437.1,272.8 440.5,274.6 444.0,276.8 C447.5,279.0 452.3,283.2 454.0,284.5 L452.3,285.0 C450.2,284.2 444.0,281.3 439.9,280.0 C435.8,278.7 431.4,277.5 427.5,277.2 C423.6,276.9 419.1,277.3 416.4,278.0 C413.6,278.7 412.2,280.0 411.0,281.5 C409.8,283.0 409.6,285.2 409.0,287.0 C408.4,288.8 408.7,291.2 407.5,292.5 C406.3,293.8 402.9,294.2 402.0,294.5 Z"/>
<path fill="#9acd32" d="M387.5,293.0 C389.3,293.2 396.2,296.9 401.0,299.5 C405.8,302.1 410.9,305.0 416.0,308.5 C421.1,312.0 429.5,318.3 431.5,320.5 C433.5,322.7 431.1,322.8 428.0,321.8 C424.9,320.9 417.8,317.4 413.0,314.8 C408.2,312.2 402.8,309.3 399.0,306.5 C395.2,303.7 391.9,300.2 390.0,298.0 C388.1,295.8 385.7,292.8 387.5,293.0 Z"/>
<path fill="none" stroke="#9acd32" stroke-width="10.8" stroke-linecap="round" stroke-linejoin="round" d="M378.0,305.0 C378.5,307.2 379.3,313.8 381.0,318.0 C382.7,322.2 384.8,326.7 388.0,330.0 C391.2,333.3 395.8,336.5 400.0,338.0 C404.2,339.5 409.0,340.0 413.0,339.0 C417.0,338.0 422.2,333.2 424.0,332.0"/>
<circle cx="458.8" cy="264" r="7" fill="#89796a"/>
<path fill="#89796a" d="M465.0,195.1 C464.2,194.5 462.2,191.9 460.5,191.7 C458.8,191.5 456.8,192.5 454.9,194.0 C453.0,195.5 450.7,198.1 449.2,200.7 C447.7,203.3 446.6,206.7 445.9,209.7 C445.1,212.7 444.5,215.5 444.7,218.7 C444.9,221.9 445.7,225.7 447.0,228.9 C448.3,232.1 450.4,235.3 452.6,237.9 C454.9,240.5 457.7,243.1 460.5,244.6 C463.3,246.1 466.7,246.9 469.5,246.9 C472.3,246.9 475.1,245.7 477.4,244.6 C479.6,243.5 481.5,242.2 483.0,240.1 C484.5,238.0 485.6,235.0 486.4,232.2 C487.1,229.4 487.5,226.0 487.5,223.2 C487.5,220.4 486.8,217.3 486.4,215.4 C486.0,213.5 485.4,212.6 485.2,212.0 L484.1,214.2 C483.9,215.5 483.6,219.5 483.0,222.1 C482.4,224.7 481.8,227.9 480.7,230.0 C479.6,232.1 478.1,233.4 476.2,234.5 C474.3,235.6 471.9,236.7 469.5,236.7 C467.1,236.7 463.9,235.8 461.6,234.5 C459.4,233.2 457.5,231.3 456.0,228.9 C454.5,226.5 453.2,222.9 452.6,219.9 C452.0,216.9 452.0,213.7 452.6,210.9 C453.2,208.1 454.5,205.1 456.0,203.0 C457.5,200.9 459.9,199.4 461.6,198.5 C463.3,197.6 465.4,197.6 466.1,197.4 Z"/>
<path fill="#89796a" d="M490.3,150.8 C488.6,151.9 483.0,154.4 480.2,157.5 C477.4,160.6 474.7,165.2 473.4,169.4 C472.1,173.6 472.0,178.7 472.6,182.9 C473.2,187.1 474.4,191.3 476.8,194.7 C479.2,198.1 483.2,201.7 486.9,203.1 C490.5,204.5 495.0,204.5 498.7,203.1 C502.4,201.7 506.4,198.3 508.9,194.7 C511.4,191.0 513.1,185.7 513.9,181.2 C514.7,176.7 514.7,171.9 513.9,167.7 C513.1,163.5 511.4,159.3 508.9,155.9 C506.4,152.5 500.9,148.7 498.7,147.4 C496.4,146.1 495.9,148.2 495.4,148.3 L495.4,155.9 C496.5,157.0 500.4,159.2 502.1,162.6 C503.8,166.0 505.2,171.9 505.5,176.1 C505.8,180.3 505.5,184.8 503.8,187.9 C502.1,191.0 498.2,194.1 495.4,194.7 C492.6,195.3 489.1,193.3 486.9,191.3 C484.6,189.3 482.7,186.3 481.9,182.9 C481.1,179.5 480.5,175.2 481.9,171.0 C483.3,166.8 488.9,159.8 490.3,157.5 Z"/>
<path fill="#89796a" d="M490.9,129.8 C491.6,129.0 494.4,126.8 495.4,125.2 C496.4,123.6 496.0,121.4 496.7,120.0 C497.4,118.6 498.0,117.5 499.3,116.7 C500.6,115.9 502.6,115.5 504.6,115.4 C506.6,115.3 508.9,115.8 511.1,116.1 C513.3,116.4 516.5,117.2 517.6,117.4 L517.6,112.2 C517.0,111.1 514.9,107.6 514.3,105.6 C513.6,103.6 513.4,101.9 513.7,100.4 C514.0,98.9 515.0,97.5 516.3,96.5 C517.6,95.5 519.5,94.8 521.5,94.6 C523.5,94.4 525.4,94.5 528.0,95.2 C530.6,95.9 533.9,97.2 537.2,98.5 C540.5,99.8 544.1,101.3 547.6,103.0 C551.1,104.7 555.2,107.1 558.0,108.9 C560.8,110.8 563.4,113.2 564.5,114.1 L558.0,112.2 C556.3,111.5 551.1,109.4 547.6,108.3 C544.1,107.2 540.2,105.9 537.2,105.6 C534.2,105.3 531.0,105.6 529.3,106.3 C527.5,107.0 527.1,108.2 526.7,109.6 C526.3,111.0 526.4,113.1 526.7,114.8 C527.0,116.5 528.2,118.4 528.7,120.0 C529.2,121.6 529.8,123.8 530.0,124.6 L524.1,125.2 C523.0,125.1 519.8,124.6 517.6,124.6 C515.4,124.6 512.6,124.7 511.1,125.2 C509.6,125.7 508.7,126.7 508.5,127.8 C508.3,128.9 508.7,129.8 509.8,131.7 C510.9,133.6 512.8,136.7 515.0,139.5 C517.2,142.3 520.4,145.9 522.8,148.7 C525.2,151.5 527.3,154.4 529.3,156.5 C531.2,158.6 533.6,160.3 534.5,161.1 L526.7,156.5 C525.2,155.2 520.9,151.3 517.6,148.7 C514.4,146.1 510.5,143.2 507.2,140.8 C503.9,138.4 500.7,136.1 498.0,134.3 C495.3,132.5 492.1,130.6 490.9,129.8 Z"/>
</g>

</svg>
</body></html>
